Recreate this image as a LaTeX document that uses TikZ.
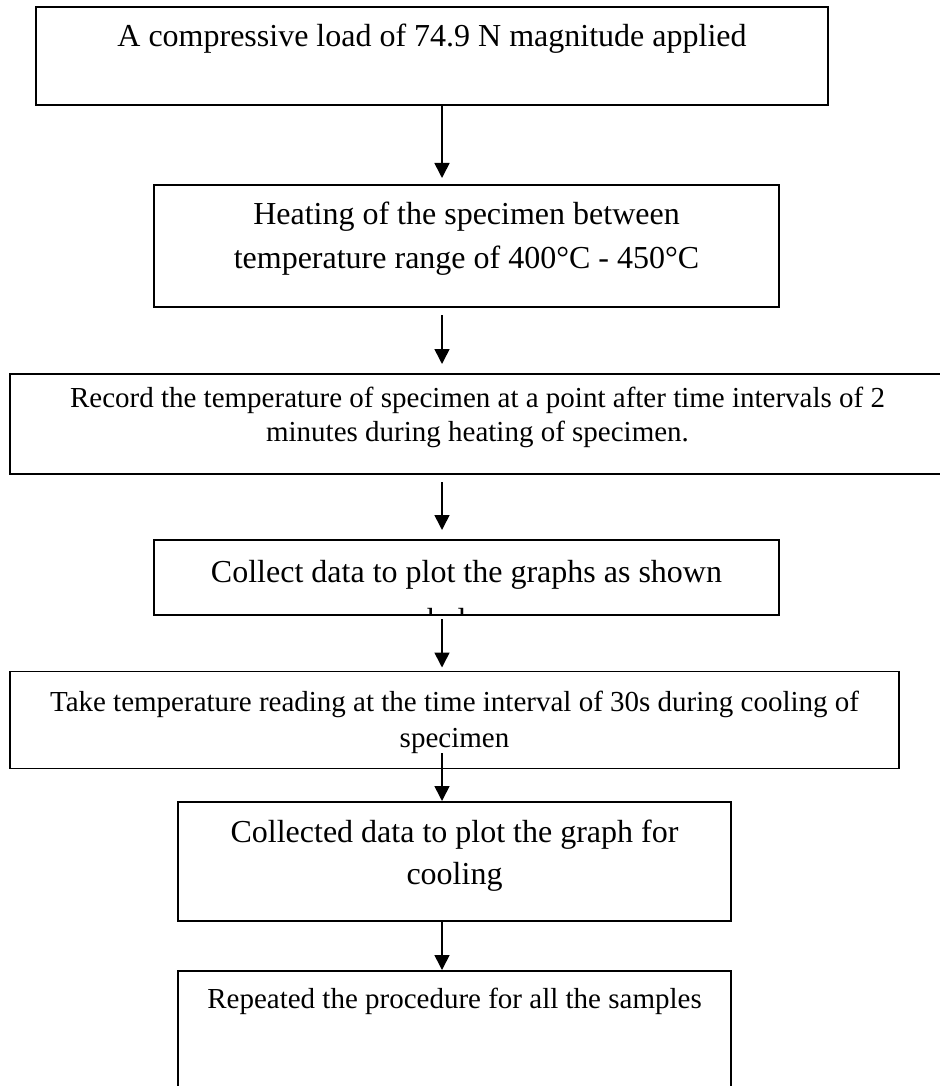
\documentclass[tikz,border=0pt]{standalone}
\usepackage{fontspec}
\setmainfont{Liberation Serif}
\usetikzlibrary{arrows.meta}
\begin{document}
\begin{tikzpicture}[x=1pt,y=1pt,
  box/.style={draw=black, line width=1.6pt, rectangle, inner sep=0pt, outer sep=0pt},
  big/.style={anchor=base, inner sep=0pt, font=\fontsize{32}{38}\selectfont},
  small/.style={anchor=base, inner sep=0pt, font=\fontsize{29}{34}\selectfont},
  arr/.style={line width=1.6pt, -{Triangle[length=15pt,width=15pt]}}]
\useasboundingbox (0,0) rectangle (939,-1086);
% boxes
\node[box, minimum width=792pt, minimum height=98pt]  (b1) at (432,-56) {};
\node[box, minimum width=625pt, minimum height=122pt] (b2) at (466.5,-246) {};
\node[box, minimum width=935pt, minimum height=100pt] (b3) at (477.5,-424) {};
\node[box, minimum width=625pt, minimum height=75pt]  (b4) at (466.5,-577.5) {};
\node[box, minimum width=889pt, minimum height=97pt]  (b5) at (454.5,-720) {};
\node[box, minimum width=553pt, minimum height=119pt] (b6) at (454.5,-861.5) {};
\node[box, minimum width=553pt, minimum height=129pt] (b7) at (454.5,-1035.5) {};
% texts
\node[big] (t1) at (432,-47) {A compressive load of 74.9 N magnitude applied};
\node[big] (t2a) at (466.5,-224) {Heating of the specimen between};
\node[big] (t2b) at (466.5,-268) {temperature range of 400°C - 450°C};
\node[small] (t3a) at (477.5,-407) {Record the temperature of specimen at a point after time intervals of 2};
\node[small] (t3b) at (477.5,-441) {minutes during heating of specimen.};
\begin{scope}
  \clip (b4.south west) rectangle (b4.north east);
  \node[big] (t4a) at (466.5,-582) {Collect data to plot the graphs as shown};
  \node[big] (t4b) at (466.5,-630) {below};
\end{scope}
\node[small] (t5a) at (454.5,-711) {Take temperature reading at the time interval of 30s during cooling of};
\node[small] (t5b) at (454.5,-747) {specimen};
\node[big] (t6a) at (454.5,-842) {Collected data to plot the graph for};
\node[big] (t6b) at (454.5,-884) {cooling};
\node[small] (t7) at (454.5,-1008) {Repeated the procedure for all the samples};
% arrows
\coordinate (ax) at (442,0);
\coordinate (a5s) at (442,-753);
\draw[arr, shorten >=7pt] (ax |- b1.south) -- (ax |- b2.north);
\draw[arr, shorten <=8pt, shorten >=10pt] (ax |- b2.south) -- (ax |- b3.north);
\draw[arr, shorten <=8pt, shorten >=10pt] (ax |- b3.south) -- (ax |- b4.north);
\draw[arr, shorten <=4pt, shorten >=4pt] (ax |- b4.south) -- (ax |- b5.north);
\draw[arr, shorten >=1pt] (a5s) -- (ax |- b6.north);
\draw[arr, shorten >=1pt] (ax |- b6.south) -- (ax |- b7.north);
\end{tikzpicture}
\end{document}
